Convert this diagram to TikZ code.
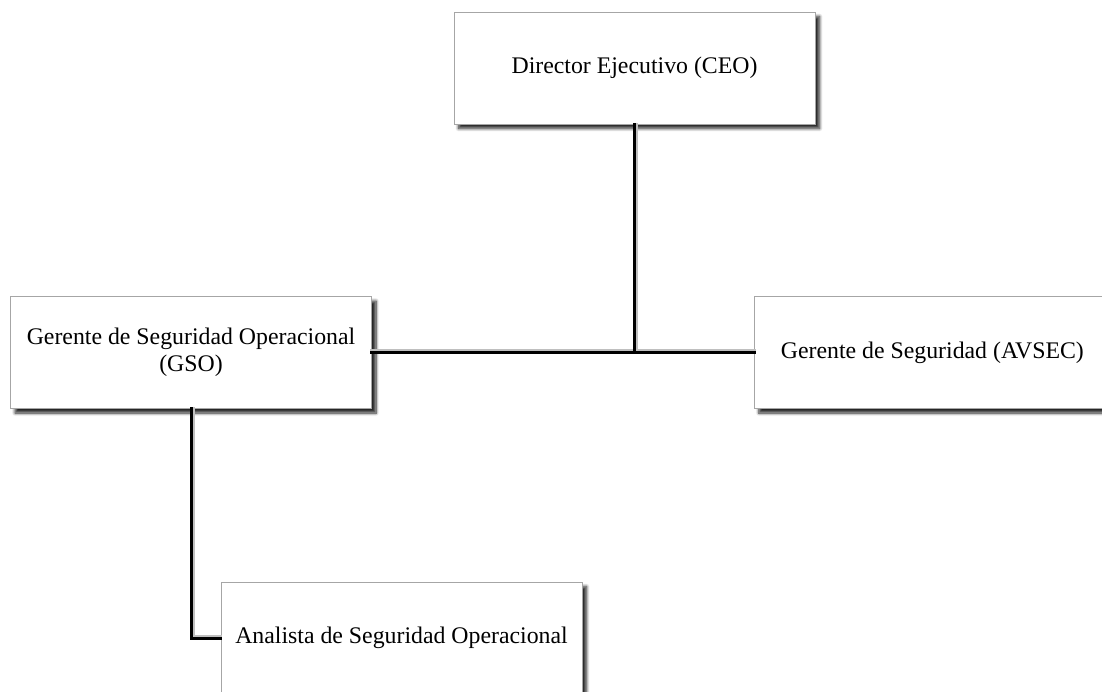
\documentclass[tikz,border=0pt]{standalone}
\usepackage{fontspec}
\setmainfont{Liberation Serif}
\usetikzlibrary{shadows,shadows.blur,positioning}
\begin{document}
\begin{tikzpicture}[x=1pt,y=-1pt,
  orgbox/.style={draw=gray!70, line width=0.8pt, fill=white, minimum width=361pt, minimum height=112pt,
    inner sep=0pt, align=center, font=\fontsize{23.8}{27.5}\selectfont,
    blur shadow={shadow xshift=4.5pt, shadow yshift=-4.5pt, shadow blur radius=3pt,
      shadow blur steps=8, shadow blur extra rounding=0pt, shadow opacity=85}},
  link/.style={line width=3pt, line cap=rect},
  linkshadow/.style={line width=3pt, draw=gray!50, line cap=rect}]
\useasboundingbox (0,0) rectangle (1102,692);
\node[orgbox] (ceo) at (634.5,68) {Director Ejecutivo (CEO)};
\node[orgbox] (gso) at (191,352.5) {Gerente de Seguridad Operacional\\(GSO)};
\node[orgbox, minimum width=370pt, anchor=west] (avsec) at (754,352.5) {\hspace*{-14pt}Gerente de Seguridad (AVSEC)};
\node[orgbox] (ana) at (401.5,638) {Analista de Seguridad Operacional};
\coordinate (j) at (ceo.south |- gso.east);
\coordinate (k) at (gso.south |- ana.west);
% line shadows
\draw[linkshadow] ([xshift=2pt]ceo.south) -- ([xshift=2pt,yshift=2pt]j);
\draw[linkshadow] ([yshift=2pt]gso.east) -- ([yshift=2pt]avsec.west);
\draw[linkshadow] ([xshift=2pt]gso.south) -- ([xshift=2pt,yshift=2pt]k) -- ([yshift=2pt]ana.west);
% links
\draw[link] (ceo.south) -- (j);
\draw[link] (gso.east) -- (avsec.west);
\draw[link] (gso.south) -- (k) -- (ana.west);
\end{tikzpicture}
\end{document}
